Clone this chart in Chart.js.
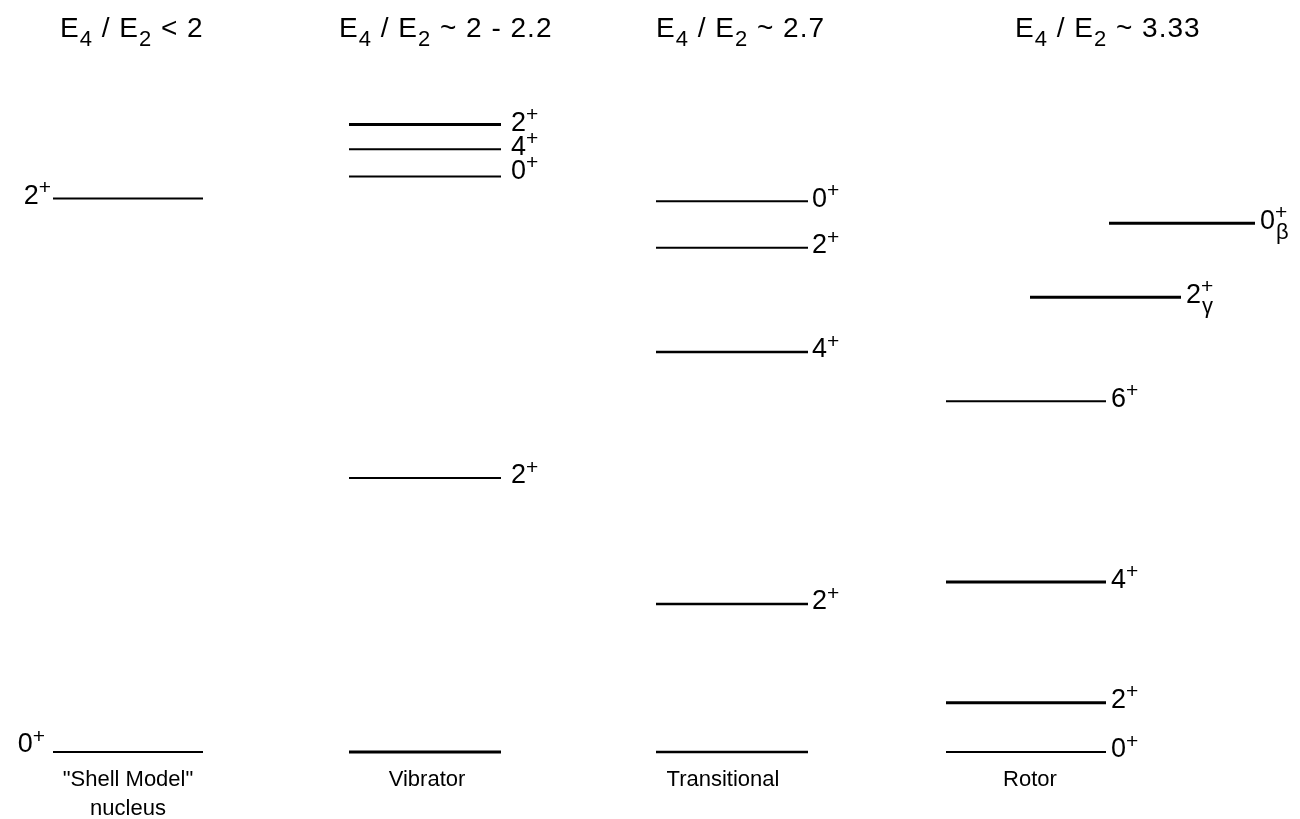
<!DOCTYPE html>
<html>
<head>
<meta charset="utf-8">
<title>Level schemes</title>
<script src="https://cdn.jsdelivr.net/npm/chart.js@4.4.1/dist/chart.umd.min.js"></script>
<style>
  html, body { margin: 0; padding: 0; background: #fff; }
  #wrap { width: 1300px; height: 819px; }
</style>
</head>
<body>
<div id="wrap"><canvas id="levels" width="1300" height="819"></canvas></div>
<script>
// --- data (energies in units of the vibrator 2+ level) ---
const bandNames = [['"Shell Model"', 'nucleus'], ['Vibrator'], ['Transitional'], ['Rotor']];
const ratioText = ['< 2', '~ 2 - 2.2', '~ 2.7', '~ 3.33'];

const shellEnergies = [0, 2.02];
const shellSpins = ['0', '2'];

const vibEnergies = [0, 1.0, 2.10, 2.20, 2.29];
const vibSpins = ['', '2', '0', '4', '2'];

const transEnergies = [0, 0.54, 1.46, 1.84, 2.01];
const transSpins = ['', '2', '4', '2', '0'];

const rotorEnergies = [0, 0.18, 0.62, 1.28, 1.66, 1.93];
const rotorSpins = ['0', '2', '4', '6', '2', '0'];
const rotorSubs = ['', '', '', '', '\u03b3', '\u03b2'];

// --- layout ---
const bandX = [53, 349, 656, 946];
const levelW = 152;
const rotorShift = [0, 0, 0, 0, 84, 163];   // gamma / beta bands drawn to the right
const rotorWidth = [160, 160, 160, 160, 151, 146];
const titleX = [60, 339, 656, 1015];
const nameX = [128, 427, 723, 1030];
const pxPerUnit = 274, groundPx = 752, H = 819;

const bands = [
  { e: shellEnergies, s: shellSpins, lw: [2, 2], labelLeft: true, gap: [8, 2], labelDy: [-5, 0] },
  { e: vibEnergies, s: vibSpins, lw: [3, 2, 2, 2, 3], labelDy: [0, 0, -3, 0, 1], gap: 10 },
  { e: transEnergies, s: transSpins, lw: [2.5, 2.5, 2.5, 2, 2], gap: 4 },
  { e: rotorEnergies, s: rotorSpins, sub: rotorSubs, lw: [2, 3, 3, 2, 3, 3], gap: 5 }
];

const datasets = [];
bands.forEach((b, bi) => {
  b.e.forEach((en, li) => {
    let x1 = bandX[bi], x2 = bandX[bi] + levelW;
    if (bi === 3) { x1 = bandX[bi] + rotorShift[li]; x2 = x1 + rotorWidth[li]; }
    if (bi === 0) x2 = 203;
    datasets.push({
      data: [{ x: x1, y: en }, { x: x2, y: en }],
      borderColor: '#000', borderWidth: b.lw[li], pointRadius: 0, showLine: true,
      _band: bi, _level: li
    });
  });
});

const FONT = '"Liberation Sans", Arial, Helvetica, sans-serif';

function drawSpin(ctx, x, y, spin, sub, align) {
  if (!spin) return;
  ctx.fillStyle = '#000';
  ctx.textBaseline = 'middle';
  ctx.font = '27px ' + FONT;
  const w = ctx.measureText(spin).width;
  ctx.font = '21px ' + FONT;
  const pw = ctx.measureText('+').width;
  let sx = align === 'right' ? x - w - pw : x;
  ctx.font = '27px ' + FONT;
  ctx.textAlign = 'left';
  ctx.fillText(spin, sx, y);
  ctx.font = '21px ' + FONT;
  ctx.fillText('+', sx + w, y - 8);
  if (sub) {
    ctx.font = '22px ' + FONT;
    ctx.fillText(sub, sx + w + 1, y + 12);
  }
}

// text with a little extra tracking, like the original typesetting
function spaced(ctx, str, x, y, sp) {
  for (const ch of str) {
    ctx.fillText(ch, x, y);
    x += ctx.measureText(ch).width + sp;
  }
  return x;
}

const labelPlugin = {
  id: 'labels',
  afterDraw(chart) {
    const ctx = chart.ctx, xs = chart.scales.x, ys = chart.scales.y;
    ctx.save();
    chart.data.datasets.forEach(ds => {
      const b = bands[ds._band], li = ds._level;
      const yPx = ys.getPixelForValue(ds.data[0].y) - 2 + (b.labelDy ? b.labelDy[li] : 0);
      if (b.labelLeft) {
        drawSpin(ctx, xs.getPixelForValue(ds.data[0].x) - b.gap[li], yPx, b.s[li], '', 'right');
      } else {
        drawSpin(ctx, xs.getPixelForValue(ds.data[1].x) + b.gap, yPx, b.s[li], b.sub ? b.sub[li] : '', 'left');
      }
    });
    // titles
    ctx.fillStyle = '#000';
    ctx.textBaseline = 'alphabetic';
    ctx.textAlign = 'left';
    ratioText.forEach((t, i) => {
      let x = titleX[i];
      const y = 37;
      const parts = [['E', 28, 0], ['4', 22, 9], [' / ', 28, 0], ['E', 28, 0], ['2', 22, 9], [' ' + t, 28, 0]];
      parts.forEach(p => {
        ctx.font = p[1] + 'px ' + FONT;
        x = spaced(ctx, p[0], x, y + p[2], 1);
      });
    });
    // band names
    ctx.font = '22px ' + FONT;
    ctx.textAlign = 'center';
    bandNames.forEach((lines, i) => {
      lines.forEach((ln, k) => ctx.fillText(ln, nameX[i], 786 + k * 29));
    });
    ctx.restore();
  }
};

new Chart(document.getElementById('levels'), {
  type: 'scatter',
  data: { datasets },
  options: {
    responsive: false,
    animation: false,
    layout: { padding: 0 },
    plugins: { legend: { display: false }, tooltip: { enabled: false } },
    scales: {
      x: { type: 'linear', display: false, min: 0, max: 1300 },
      y: { type: 'linear', display: false, min: -(H - groundPx) / pxPerUnit, max: groundPx / pxPerUnit }
    }
  },
  plugins: [labelPlugin]
});
</script>
</body>
</html>
